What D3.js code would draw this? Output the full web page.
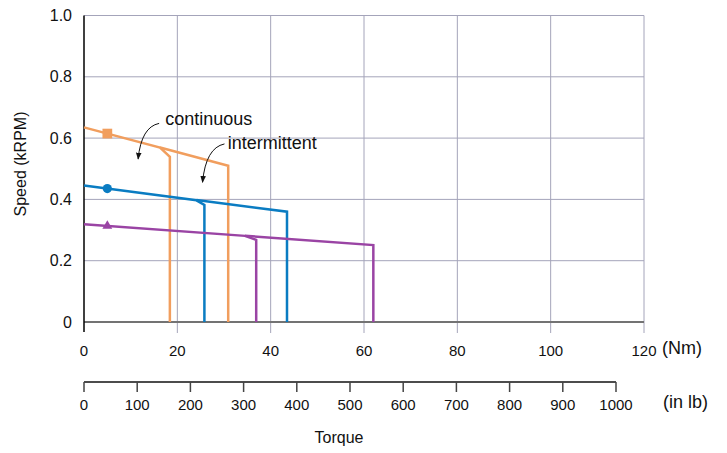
<!DOCTYPE html>
<html>
<head>
<meta charset="utf-8">
<script src="https://cdn.jsdelivr.net/npm/d3@7"></script>
<style>
  html, body { margin: 0; padding: 0; background: #fff; }
  svg { display: block; font-family: "Liberation Sans", Arial, Helvetica, sans-serif; }
</style>
</head>
<body>
<svg id="chart" width="727" height="453"></svg>
<script>
// Speed–torque envelopes for three motor sizes
const motors       = ["small", "medium", "large"];
const colors       = ["#f19e5e", "#0a7cc2", "#9a44a4"];
const markerShapes = ["square", "circle", "triangle"];
const speedAtZero  = [0.635, 0.445, 0.319];   // kRPM at 0 Nm
const kneeTorque   = [16.3, 24.1, 34.5];      // start of continuous roll-off (Nm)
const kneeSpeed    = [0.569, 0.397, 0.281];
const contTorque   = [18.4, 25.8, 36.9];      // continuous torque limit (Nm)
const contSpeed    = [0.539, 0.382, 0.268];
const peakTorque   = [30.9, 43.5, 62.0];      // intermittent torque limit (Nm)
const peakSpeed    = [0.510, 0.360, 0.251];
const markerTorque = 5;

const nmTicks    = [0, 20, 40, 60, 80, 100, 120];
const lbTicks    = [0, 100, 200, 300, 400, 500, 600, 700, 800, 900, 1000];
const speedTicks = [0, 0.2, 0.4, 0.6, 0.8, 1.0];

// annotation anchors in data units [torque Nm, speed kRPM]
const annotations = [
  { text: "continuous",   label: [17.4, 0.643], from: [16.1, 0.648], to: [11.6, 0.532] },
  { text: "intermittent", label: [30.8, 0.563], from: [30.1, 0.581], to: [25.4, 0.456] }
];

const svg = d3.select("#chart");
const x   = d3.scaleLinear().domain([0, 120]).range([84, 644]);
const xLb = d3.scaleLinear().domain([0, 1000]).range([84, 616]);
const y   = d3.scaleLinear().domain([0, 1]).range([322, 15.5]);

const gridColor = "#a4a4ba";

// horizontal grid lines
svg.append("g").selectAll("line")
  .data(speedTicks.filter(d => d > 0))
  .join("line")
  .attr("x1", x(0)).attr("x2", x(120))
  .attr("y1", d => y(d)).attr("y2", d => y(d))
  .attr("stroke", gridColor).attr("stroke-width", 1);

// vertical grid lines, running a little past the torque axis
svg.append("g").selectAll("line")
  .data(nmTicks.filter(d => d > 0))
  .join("line")
  .attr("x1", d => x(d)).attr("x2", d => x(d))
  .attr("y1", y(1)).attr("y2", y(0) + 11)
  .attr("stroke", gridColor).attr("stroke-width", 1);

// zero-speed baseline
svg.append("line")
  .attr("x1", x(0)).attr("x2", x(120))
  .attr("y1", y(0)).attr("y2", y(0))
  .attr("stroke", "#737373").attr("stroke-width", 2);

// speed axis
svg.append("line")
  .attr("x1", x(0)).attr("x2", x(0))
  .attr("y1", y(1)).attr("y2", y(0) + 10)
  .attr("stroke", "#000").attr("stroke-width", 1.5);

svg.append("g").selectAll("text")
  .data(speedTicks)
  .join("text")
  .attr("x", 72).attr("y", d => y(d))
  .attr("text-anchor", "end").attr("dominant-baseline", "central")
  .attr("font-size", 16).attr("fill", "#111")
  .text(d => d === 0 ? "0" : d.toFixed(1));

svg.append("text")
  .attr("transform", "translate(20,164) rotate(-90)")
  .attr("text-anchor", "middle").attr("dominant-baseline", "central")
  .attr("font-size", 16).attr("fill", "#111")
  .text("Speed (kRPM)");

// Nm tick labels
svg.append("g").selectAll("text")
  .data(nmTicks)
  .join("text")
  .attr("x", d => x(d)).attr("y", 350)
  .attr("text-anchor", "middle").attr("dominant-baseline", "central")
  .attr("font-size", 15).attr("fill", "#111")
  .text(d => d);
svg.append("text")
  .attr("x", 662).attr("y", 348)
  .attr("dominant-baseline", "central")
  .attr("font-size", 18).attr("fill", "#111")
  .text("(Nm)");

// secondary torque axis in in·lb
const lbAxis = svg.append("g").attr("transform", "translate(0,382)");
lbAxis.append("line")
  .attr("x1", xLb(0)).attr("x2", xLb(1000))
  .attr("stroke", "#111").attr("stroke-width", 1.5);
lbAxis.selectAll("line.tick")
  .data(lbTicks)
  .join("line").attr("class", "tick")
  .attr("x1", d => xLb(d)).attr("x2", d => xLb(d))
  .attr("y1", 0).attr("y2", 10)
  .attr("stroke", "#444").attr("stroke-width", 1.5);
lbAxis.selectAll("text")
  .data(lbTicks)
  .join("text")
  .attr("x", d => xLb(d)).attr("y", 22)
  .attr("text-anchor", "middle").attr("dominant-baseline", "central")
  .attr("font-size", 15).attr("fill", "#111")
  .text(d => d);
svg.append("text")
  .attr("x", 663).attr("y", 402)
  .attr("dominant-baseline", "central")
  .attr("font-size", 18).attr("fill", "#111")
  .text("(in lb)");

svg.append("text")
  .attr("x", 339).attr("y", 437)
  .attr("text-anchor", "middle").attr("dominant-baseline", "central")
  .attr("font-size", 16).attr("fill", "#111")
  .text("Torque");

// envelope curves
const line = d3.line().x(d => x(d[0])).y(d => y(d[1]));
const curves = svg.append("g")
  .attr("fill", "none").attr("stroke-width", 2.5).attr("stroke-linejoin", "miter");

motors.forEach((m, i) => {
  const continuous = [
    [0, speedAtZero[i]],
    [kneeTorque[i], kneeSpeed[i]],
    [contTorque[i], contSpeed[i]],
    [contTorque[i], 0]
  ];
  const kneeOnLine = speedAtZero[i] + (peakSpeed[i] - speedAtZero[i]) * kneeTorque[i] / peakTorque[i];
  const intermittent = [
    [kneeTorque[i], kneeOnLine],
    [peakTorque[i], peakSpeed[i]],
    [peakTorque[i], 0]
  ];
  curves.append("path").attr("d", line(continuous)).attr("stroke", colors[i]);
  curves.append("path").attr("d", line(intermittent)).attr("stroke", colors[i]);

  const ms = speedAtZero[i] + (peakSpeed[i] - speedAtZero[i]) * markerTorque / peakTorque[i];
  const sym = { square: [d3.symbolSquare, 95], circle: [d3.symbolCircle, 66], triangle: [d3.symbolTriangle, 42] }[markerShapes[i]];
  svg.append("path")
    .attr("d", d3.symbol(sym[0], sym[1])())
    .attr("transform", `translate(${x(markerTorque)},${y(ms)})`)
    .attr("fill", colors[i]);
});

// callouts
svg.append("defs").append("marker")
  .attr("id", "arrowhead")
  .attr("viewBox", "0 0 10 10")
  .attr("refX", 9).attr("refY", 5)
  .attr("markerWidth", 7).attr("markerHeight", 7)
  .attr("markerUnits", "userSpaceOnUse")
  .attr("orient", "auto")
  .append("path").attr("d", "M0,1 L10,5 L0,9 Z").attr("fill", "#111");

annotations.forEach(a => {
  const x0 = x(a.from[0]), y0 = y(a.from[1]);
  const x1 = x(a.to[0]),   y1 = y(a.to[1]);
  const cx = x1 + (x0 - x1) * 0.15, cy = y0 + (y1 - y0) * 0.1;
  svg.append("path")
    .attr("d", `M${x0},${y0} Q${cx},${cy} ${x1},${y1}`)
    .attr("fill", "none").attr("stroke", "#111").attr("stroke-width", 1)
    .attr("marker-end", "url(#arrowhead)");
  svg.append("text")
    .attr("x", x(a.label[0])).attr("y", y(a.label[1]))
    .attr("font-size", 18).attr("fill", "#111")
    .text(a.text);
});
</script>
</body>
</html>
